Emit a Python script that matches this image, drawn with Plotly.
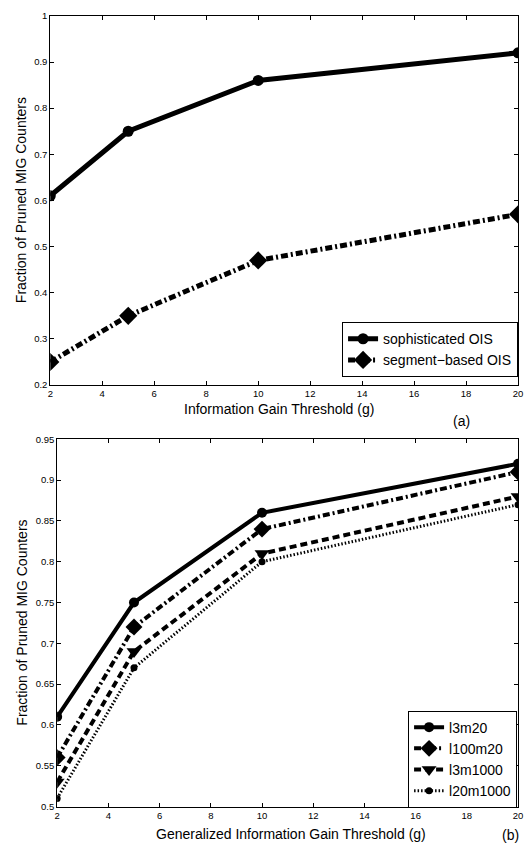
import plotly.graph_objects as go

# Information gain thresholds (g)
thresholds = [2, 5, 10, 20]

# Panel (a): fraction of pruned MIG counters per OIS variant
sophisticated_ois = [0.61, 0.75, 0.86, 0.92]
segment_based_ois = [0.25, 0.35, 0.47, 0.57]

# Panel (b): generalized information gain, per parameter setting
l3m20 = [0.61, 0.75, 0.86, 0.92]
l100m20 = [0.56, 0.72, 0.84, 0.91]
l3m1000 = [0.53, 0.69, 0.81, 0.88]
l20m1000 = [0.51, 0.67, 0.80, 0.87]

x_ticks = [2, 4, 6, 8, 10, 12, 14, 16, 18, 20]
top_y_ticks = [0.2, 0.3, 0.4, 0.5, 0.6, 0.7, 0.8, 0.9, 1.0]
top_y_text = ["0.2", "0.3", "0.4", "0.5", "0.6", "0.7", "0.8", "0.9", "1"]
bottom_y_ticks = [0.5, 0.55, 0.6, 0.65, 0.7, 0.75, 0.8, 0.85, 0.9, 0.95]
bottom_y_text = ["0.5", "0.55", "0.6", "0.65", "0.7", "0.75", "0.8", "0.85", "0.9", "0.95"]

W, H = 527, 854
FONT = "Liberation Sans, Arial, Helvetica, sans-serif"


def px_x(p):
    return p / W


def px_y(p):
    return (H - p) / H


fig = go.Figure()

# --- panel (a) ---
fig.add_trace(go.Scatter(
    x=thresholds, y=sophisticated_ois, name="sophisticated OIS",
    mode="lines+markers", xaxis="x", yaxis="y", legend="legend",
    line=dict(color="black", width=5),
    marker=dict(symbol="circle", size=11, color="black"),
))
fig.add_trace(go.Scatter(
    x=thresholds, y=segment_based_ois, name="segment\u2212based OIS",
    mode="lines+markers", xaxis="x", yaxis="y", legend="legend",
    line=dict(color="black", width=5, dash="7px,3px,2px,3px"),
    marker=dict(symbol="diamond", size=14, color="black"),
))

# --- panel (b) ---
fig.add_trace(go.Scatter(
    x=thresholds, y=l3m20, name="l3m20",
    mode="lines+markers", xaxis="x2", yaxis="y2", legend="legend2",
    line=dict(color="black", width=4),
    marker=dict(symbol="circle", size=10, color="black"),
))
fig.add_trace(go.Scatter(
    x=thresholds, y=l100m20, name="l100m20",
    mode="lines+markers", xaxis="x2", yaxis="y2", legend="legend2",
    line=dict(color="black", width=4, dash="7px,3px,2px,3px"),
    marker=dict(symbol="diamond", size=13, color="black"),
))
fig.add_trace(go.Scatter(
    x=thresholds, y=l3m1000, name="l3m1000",
    mode="lines+markers", xaxis="x2", yaxis="y2", legend="legend2",
    line=dict(color="black", width=4, dash="7px,4px"),
    marker=dict(symbol="triangle-down", size=13, color="black"),
))
fig.add_trace(go.Scatter(
    x=thresholds, y=l20m1000, name="l20m1000",
    mode="lines+markers", xaxis="x2", yaxis="y2", legend="legend2",
    line=dict(color="black", width=3, dash="1.5px,2px"),
    marker=dict(symbol="circle", size=7, color="black"),
))

axis_common = dict(
    showgrid=False, zeroline=False, showline=True, linecolor="black",
    linewidth=1, mirror="ticks", ticks="inside", ticklen=4,
    tickcolor="black", tickfont=dict(family=FONT, size=9.5, color="black"),
    ticklabeloverflow="allow",
)

legend_common = dict(
    xanchor="right", yanchor="bottom",
    bgcolor="white", bordercolor="black", borderwidth=1,
    font=dict(family=FONT, size=14, color="black"),
    tracegroupgap=0, itemwidth=30,
)

fig.update_layout(
    width=W, height=H,
    margin=dict(l=0, r=0, t=0, b=0),
    paper_bgcolor="white", plot_bgcolor="white",
    font=dict(family=FONT, color="black"),
    xaxis=dict(domain=[px_x(48), px_x(523)], range=[2, 20],
               tickvals=x_ticks, anchor="y", **axis_common),
    yaxis=dict(domain=[px_y(384), px_y(10)], range=[0.2, 1.0],
               tickvals=top_y_ticks, ticktext=top_y_text, anchor="x",
               **axis_common),
    xaxis2=dict(domain=[px_x(55), px_x(523)], range=[2, 20],
                tickvals=x_ticks, anchor="y2", **axis_common),
    yaxis2=dict(domain=[px_y(811), px_y(439)], range=[0.5, 0.95],
                tickvals=bottom_y_ticks, ticktext=bottom_y_text, anchor="x2",
                **axis_common),
    legend=dict(x=px_x(523), y=px_y(376), **legend_common),
    legend2=dict(x=px_x(522), y=px_y(812), **legend_common),
    showlegend=True,
)

annotations = [
    dict(text="Fraction of Pruned MIG Counters", x=px_x(19), y=px_y(197),
         textangle=-90),
    dict(text="Information Gain Threshold (g)", x=px_x(280), y=px_y(408)),
    dict(text="(a)", x=px_x(466), y=px_y(420)),
    dict(text="Fraction of Pruned MIG Counters", x=px_x(19), y=px_y(625),
         textangle=-90),
    dict(text="Generalized Information Gain Threshold (g)", x=px_x(292),
         y=px_y(839)),
    dict(text="(b)", x=px_x(515), y=px_y(840)),
]
for a in annotations:
    fig.add_annotation(xref="paper", yref="paper", showarrow=False,
                       xanchor="center", yanchor="middle",
                       font=dict(family=FONT, size=14, color="black"), **a)

fig.write_html("out.html")
